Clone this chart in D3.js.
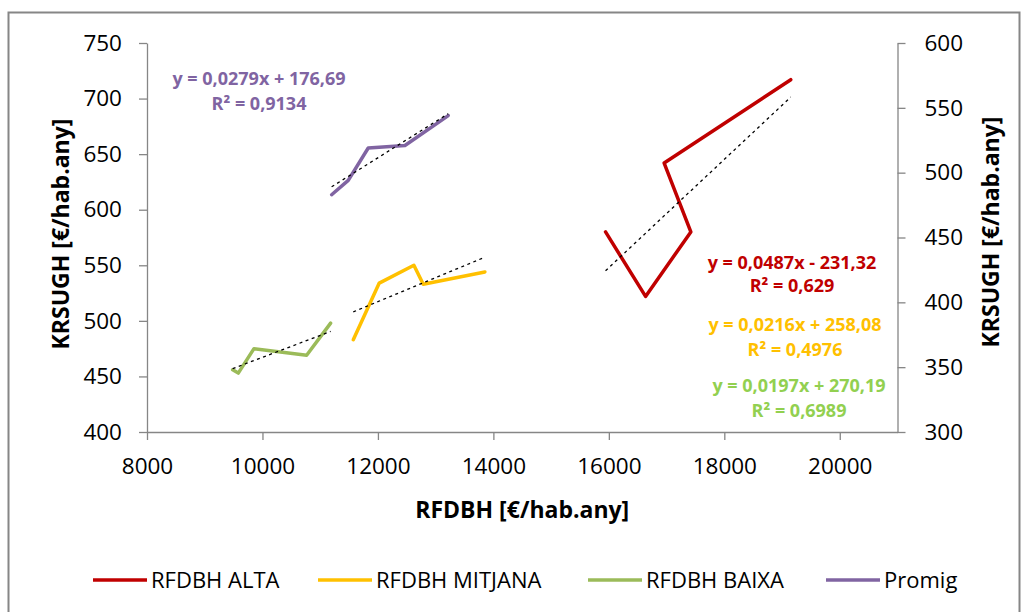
<!DOCTYPE html>
<html>
<head>
<meta charset="utf-8">
<script src="https://cdn.jsdelivr.net/npm/d3@7/dist/d3.min.js"></script>
<style>
  html, body { margin: 0; padding: 0; background: #fff; }
  svg { display: block; }
  text { font-family: "Open Sans", "DejaVu Sans", sans-serif; }
</style>
</head>
<body>
<svg id="chart" width="1021" height="612"></svg>
<script>
// Income per inhabitant (RFDBH) vs. waste-service cost per inhabitant (KRSUGH)
const seriesNames = ["RFDBH ALTA", "RFDBH MITJANA", "RFDBH BAIXA", "Promig"];
const seriesColors = ["#C00000", "#FFC000", "#9BBB59", "#8064A2"];
const labelColors  = ["#C00000", "#FFC000", "#92D050", "#8064A2"];
// which vertical axis each series is plotted against
const seriesAxis = ["left", "left", "left", "right"];

const altaX    = [15943, 16636, 17420, 16958, 19151];
const altaY    = [580, 522, 580, 642, 717];
const mitjanaX = [11573, 12023, 12623, 12785, 13853];
const mitjanaY = [483, 534, 550, 533, 544];
const baixaX   = [9484, 9581, 9853, 10765, 11181];
const baixaY   = [456, 453, 475, 469, 498];
const promigX  = [11198, 11486, 11832, 12468, 13218];
const promigY  = [483, 494, 519, 521, 544];

// linear trendlines: y = slope * x + intercept
const trendSlopes     = [0.0487, 0.0216, 0.0197, 0.0279];
const trendIntercepts = [-231.32, 258.08, 270.19, 176.69];
const trendR2         = [0.629, 0.4976, 0.6989, 0.9134];

const xTicks      = [8000, 10000, 12000, 14000, 16000, 18000, 20000];
const yLeftTicks  = [400, 450, 500, 550, 600, 650, 700, 750];
const yRightTicks = [300, 350, 400, 450, 500, 550, 600];

const xTitle = "RFDBH [€/hab.any]";
const yTitle = "KRSUGH [€/hab.any]";

const seriesX = [altaX, mitjanaX, baixaX, promigX];
const seriesY = [altaY, mitjanaY, baixaY, promigY];

const svg = d3.select("#chart");
const axisColor = "#868686";

// outer chart frame
svg.append("rect")
  .attr("x", 8.5).attr("y", 12.5)
  .attr("width", 1011).attr("height", 610)
  .attr("fill", "#fff")
  .attr("stroke", axisColor).attr("stroke-width", 2);

const plot = { left: 147, right: 897.5, top: 43, bottom: 432 };

const x  = d3.scaleLinear().domain([8000, 21000]).range([plot.left, plot.right]);
const yL = d3.scaleLinear().domain([400, 750]).range([plot.bottom, plot.top]);
const yR = d3.scaleLinear().domain([300, 600]).range([plot.bottom, plot.top]);

function styleAxis(g) {
  g.select(".domain").attr("stroke", axisColor).attr("stroke-width", 1.3);
  g.selectAll(".tick line").attr("stroke", axisColor).attr("stroke-width", 1.3);
  g.selectAll(".tick text")
    .attr("fill", "#000")
    .style("font-size", "22.5px")
    .style("font-family", "'Open Sans', sans-serif");
}

svg.append("g")
  .attr("transform", `translate(0,${plot.bottom})`)
  .call(d3.axisBottom(x).tickValues(xTicks).tickFormat(d3.format("d"))
    .tickSize(8).tickSizeOuter(0).tickPadding(18))
  .call(styleAxis);

svg.append("g")
  .attr("transform", `translate(${plot.left},0)`)
  .call(d3.axisLeft(yL).tickValues(yLeftTicks).tickFormat(d3.format("d"))
    .tickSize(8).tickSizeOuter(0).tickPadding(17))
  .call(styleAxis);

svg.append("g")
  .attr("transform", `translate(${plot.right},0)`)
  .call(d3.axisRight(yR).tickValues(yRightTicks).tickFormat(d3.format("d"))
    .tickSize(8).tickSizeOuter(0).tickPadding(19))
  .call(styleAxis);

// axis titles
const titleStyle = sel => sel
  .attr("fill", "#000")
  .style("font-size", "23px")
  .style("font-weight", "bold")
  .attr("text-anchor", "middle");

svg.append("text")
  .attr("x", (plot.left + plot.right) / 2).attr("y", 518)
  .text(xTitle).call(titleStyle);

svg.append("text")
  .attr("transform", "translate(69,234) rotate(-90)")
  .text(yTitle).call(titleStyle);

svg.append("text")
  .attr("transform", "translate(999,232) rotate(-90)")
  .text(yTitle).call(titleStyle);

// series lines
const lineFor = yScale => d3.line()
  .x(d => x(d[0]))
  .y(d => yScale(d[1]));

seriesNames.forEach((name, i) => {
  const yScale = seriesAxis[i] === "right" ? yR : yL;
  const pts = seriesX[i].map((v, j) => [v, seriesY[i][j]]);
  svg.append("path")
    .datum(pts)
    .attr("d", lineFor(yScale))
    .attr("fill", "none")
    .attr("stroke", seriesColors[i])
    .attr("stroke-width", 3.5)
    .attr("stroke-linejoin", "round")
    .attr("stroke-linecap", "round");
});

// dotted trendlines across each series' x range
seriesNames.forEach((name, i) => {
  const yScale = seriesAxis[i] === "right" ? yR : yL;
  const [x0, x1] = d3.extent(seriesX[i]);
  const pts = [x0, x1].map(v => [v, trendSlopes[i] * v + trendIntercepts[i]]);
  svg.append("path")
    .datum(pts)
    .attr("d", lineFor(yScale))
    .attr("fill", "none")
    .attr("stroke", "#000")
    .attr("stroke-width", 1.3)
    .attr("stroke-dasharray", "3,3.5");
});

// trendline equations
const comma = (v, digits) => v.toFixed(digits).replace(".", ",");
const eqPos = [
  { cx: 792, y1: 268.5, y2: 291.5 },
  { cx: 795, y1: 331, y2: 356 },
  { cx: 799, y1: 392, y2: 417 },
  { cx: 259, y1: 85, y2: 110 }
];
seriesNames.forEach((name, i) => {
  const b = trendIntercepts[i];
  const eq = `y = ${comma(trendSlopes[i], 4)}x ${b < 0 ? "-" : "+"} ${comma(Math.abs(b), 2)}`;
  const r2 = `R² = ${String(trendR2[i]).replace(".", ",")}`;
  const p = eqPos[i];
  [[eq, p.y1], [r2, p.y2]].forEach(([t, yy]) => {
    svg.append("text")
      .attr("x", p.cx).attr("y", yy)
      .attr("text-anchor", "middle")
      .attr("fill", labelColors[i])
      .style("font-size", "18px")
      .style("font-weight", "bold")
      .text(t);
  });
});

// legend
const legendX = [93, 318, 588, 826];
const legendY = 580;
seriesNames.forEach((name, i) => {
  const g = svg.append("g").attr("transform", `translate(${legendX[i]},${legendY})`);
  g.append("line")
    .attr("x1", 0).attr("x2", 54).attr("y1", 0).attr("y2", 0)
    .attr("stroke", seriesColors[i]).attr("stroke-width", 3.5);
  g.append("text")
    .attr("x", 58).attr("y", 8)
    .attr("fill", "#000")
    .style("font-size", "22px")
    .text(name);
});
</script>
</body>
</html>
